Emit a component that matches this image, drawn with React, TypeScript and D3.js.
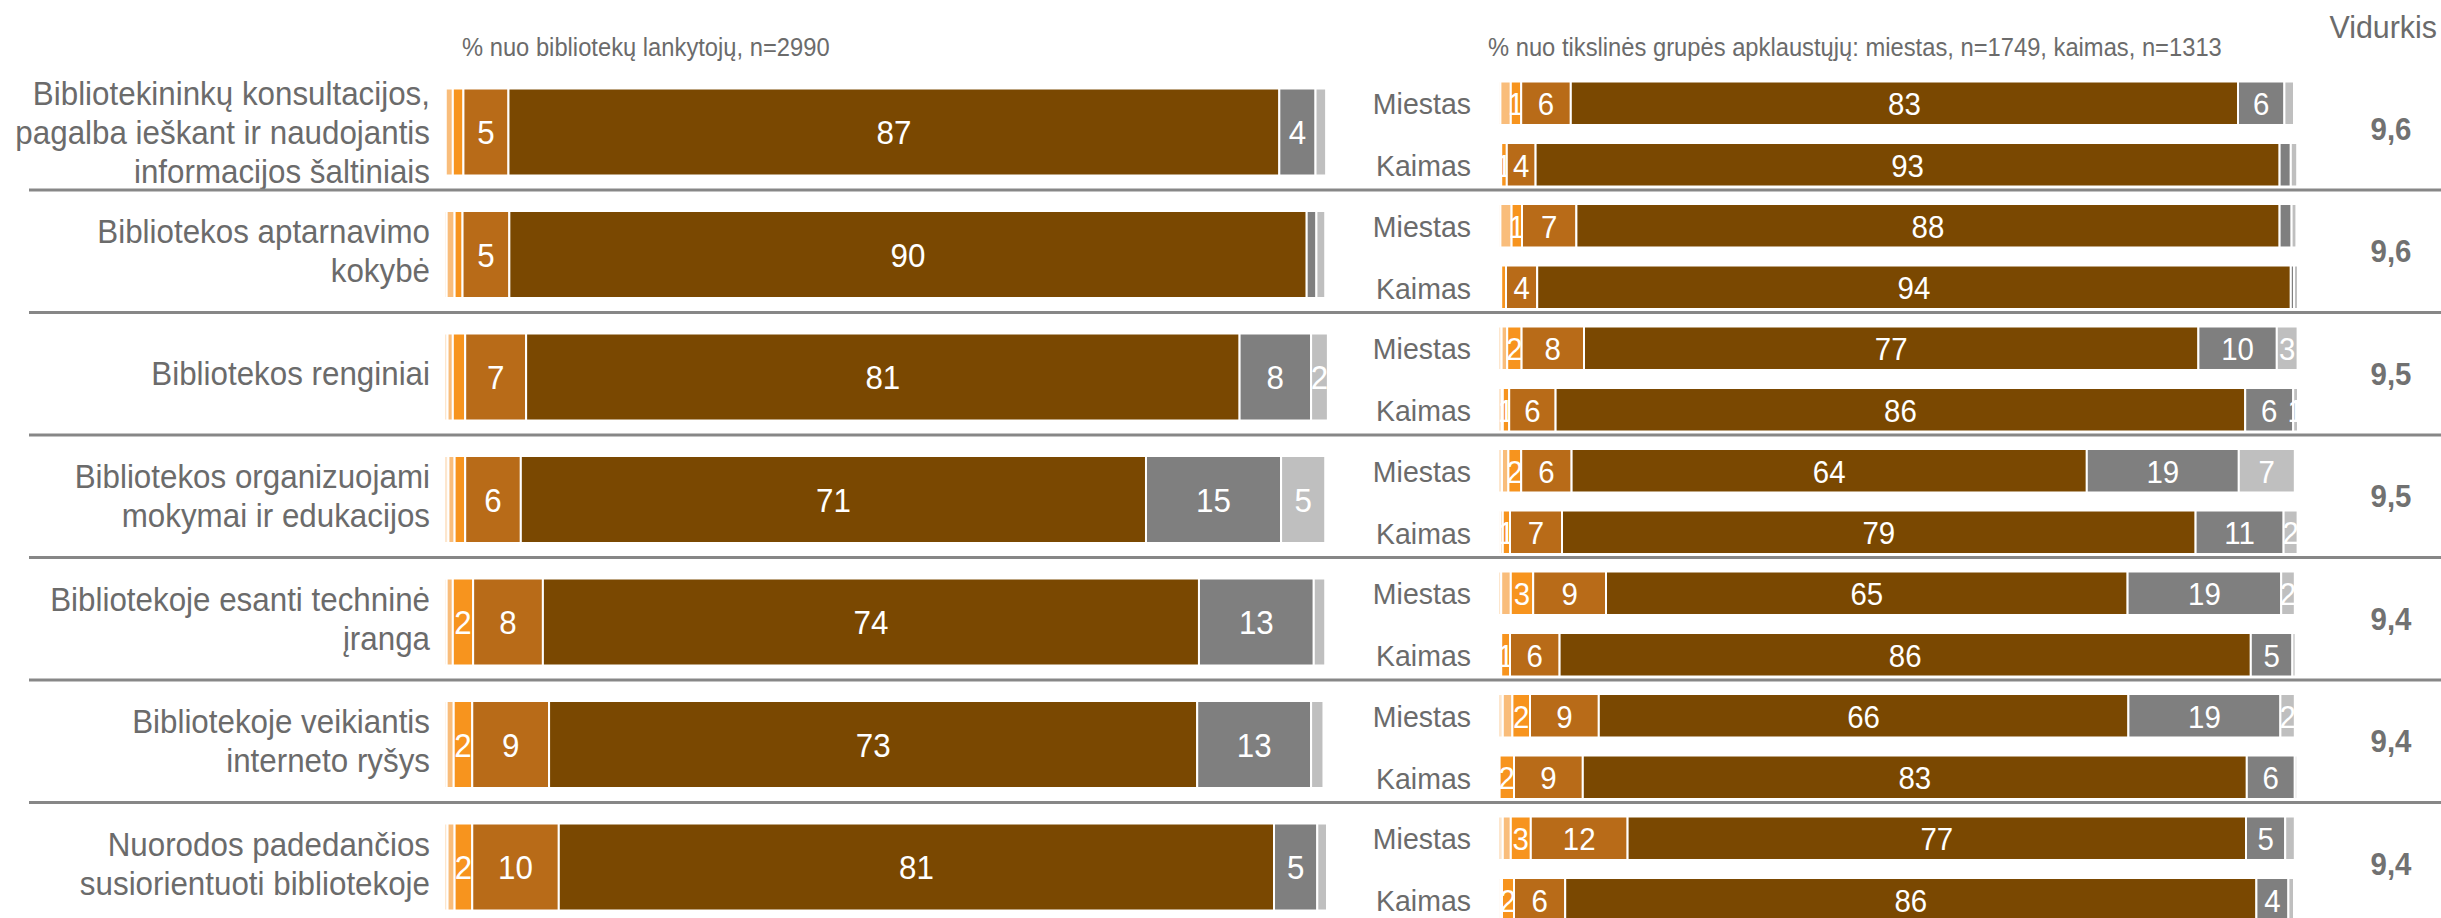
import React from "react";
import * as d3 from "d3";

// ---------- DATA ----------
const categories: string[][] = [
  ["Bibliotekininkų konsultacijos,", "pagalba ieškant ir naudojantis", "informacijos šaltiniais"],
  ["Bibliotekos aptarnavimo", "kokybė"],
  ["Bibliotekos renginiai"],
  ["Bibliotekos organizuojami", "mokymai ir edukacijos"],
  ["Bibliotekoje esanti techninė", "įranga"],
  ["Bibliotekoje veikiantis", "interneto ryšys"],
  ["Nuorodos padedančios", "susiorientuoti bibliotekoje"],
];

const subGroups = ["Miestas", "Kaimas"];

// seven answer segments per bar (left to right)
const visitorsValues: number[][] = [
  [0.2, 0.8, 1.2, 5.1, 87.3, 4.1, 1.2],
  [0.3, 0.9, 0.9, 5.3, 90.3, 1.1, 1.0],
  [0.4, 0.6, 1.4, 6.9, 80.8, 8.1, 1.9],
  [0.5, 0.7, 1.2, 6.3, 70.8, 15.3, 5.0],
  [0.3, 0.7, 2.3, 7.9, 74.3, 13.0, 1.3],
  [0.3, 0.8, 2.1, 8.7, 73.4, 12.9, 1.4],
  [0.4, 0.8, 2.0, 9.8, 81.0, 4.9, 1.1],
];
const visitorsLabels: string[][] = [
  ["", "", "", "5", "87", "4", ""],
  ["", "", "", "5", "90", "", ""],
  ["", "", "", "7", "81", "8", "2"],
  ["", "", "", "6", "71", "15", "5"],
  ["", "", "2", "8", "74", "13", ""],
  ["", "", "2", "9", "73", "13", ""],
  ["", "", "2", "10", "81", "5", ""],
];

const cityValues: number[][] = [
  [0.3, 1.3, 1.3, 6.2, 83.4, 5.8, 1.2],
  [0.3, 1.4, 1.3, 6.8, 87.9, 1.5, 0.6],
  [0.45, 0.7, 1.8, 7.8, 76.8, 9.8, 2.6],
  [0.5, 0.8, 1.6, 6.3, 64.4, 19.0, 7.0],
  [0.4, 1.2, 2.8, 9.1, 65.2, 19.2, 1.7],
  [0.6, 1.2, 2.2, 8.6, 66.2, 19.0, 1.8],
  [0.6, 1.0, 2.5, 12.1, 77.3, 4.9, 1.2],
];
const cityLabels: string[][] = [
  ["", "", "1", "6", "83", "6", ""],
  ["", "", "1", "7", "88", "", ""],
  ["", "", "2", "8", "77", "10", "3"],
  ["", "", "2", "6", "64", "19", "7"],
  ["", "", "3", "9", "65", "19", "2"],
  ["", "", "2", "9", "66", "19", "2"],
  ["", "", "3", "12", "77", "5", ""],
];

const ruralValues: number[][] = [
  [0.2, 0.2, 0.7, 3.6, 93.0, 1.4, 0.8],
  [0.2, 0.2, 0.6, 3.9, 94.2, 0.4, 0.5],
  [0.5, 0.1, 0.8, 5.8, 86.2, 6.0, 0.6],
  [0.3, 0.3, 0.9, 6.5, 79.2, 11.0, 1.75],
  [0.2, 0.2, 1.1, 6.2, 86.4, 5.2, 0.4],
  [0.1, 0.1, 1.8, 8.6, 83.0, 6.0, 0.3],
  [0.3, 0.2, 1.5, 6.4, 86.4, 4.0, 0.7],
];
const ruralLabels: string[][] = [
  ["", "", "1", "4", "93", "", ""],
  ["", "", "", "4", "94", "", ""],
  ["", "", "1", "6", "86", "6", "1"],
  ["", "", "1", "7", "79", "11", "2"],
  ["", "", "1", "6", "86", "5", ""],
  ["", "", "2", "9", "83", "6", ""],
  ["", "", "2", "6", "86", "4", ""],
];

const averages = ["9,6", "9,6", "9,5", "9,5", "9,4", "9,4", "9,4"];

const leftTitle = "% nuo bibliotekų lankytojų, n=2990";
const rightTitle = "% nuo tikslinės grupės apklaustųjų: miestas, n=1749, kaimas, n=1313";
const avgTitle = "Vidurkis";

// ---------- STYLE ----------
const W = 2441;
const H = 918;
const FONT = "'Liberation Sans', Arial, Helvetica, sans-serif";
const TEXT = "#6b6b6b";
const segColors = ["#fde6cd", "#f9bd7b", "#f7941e", "#b86b18", "#7a4801", "#7f7f7f", "#bfbfbf"];
const keys = d3.range(7);
const SX = 0.95; // slight horizontal condensing of the reference typeface

const groupBand = d3
  .scaleBand<number>()
  .domain(d3.range(categories.length))
  .range([67.5, 67.5 + categories.length * 122.5])
  .paddingInner(0)
  .paddingOuter(0);

const subBand = d3.scaleBand<string>().domain(subGroups).range([14, 119]).paddingInner(0.293);

const xLeft = d3.scaleLinear().domain([0, 100]).range([444, 1327]);
const xRight = d3.scaleLinear().domain([0, 100]).range([1498, 2298]);

const stack = d3.stack<number[], number>().keys(keys).value((d, k) => d[k]);

function T({
  x,
  y,
  children,
  size,
  anchor = "start",
  fill = TEXT,
  weight = "normal",
  baseline = "auto",
}: {
  x: number;
  y: number;
  children: React.ReactNode;
  size: number;
  anchor?: string;
  fill?: string;
  weight?: string;
  baseline?: string;
}) {
  return (
    <text
      transform={`translate(${x},${y}) scale(${SX},1)`}
      textAnchor={anchor}
      dominantBaseline={baseline}
      fontSize={size}
      fill={fill}
      fontWeight={weight}
      fontFamily={FONT}
    >
      {children}
    </text>
  );
}

function Bar({
  values,
  labels,
  x,
  y,
  h,
  fontSize,
}: {
  values: number[];
  labels: string[];
  x: d3.ScaleLinear<number, number>;
  y: number;
  h: number;
  fontSize: number;
}) {
  const series = stack([values]);
  return (
    <g>
      {series.map((s, i) => {
        const [a, b] = s[0];
        const x0 = x(a);
        const x1 = x(b);
        return (
          <g key={i}>
            <rect x={x0} y={y} width={Math.max(0, x1 - x0)} height={h} fill={segColors[i]} stroke="#ffffff" strokeWidth={2} />
            {labels[i] ? (
              <T x={(x0 + x1) / 2} y={y + h / 2 + 1} anchor="middle" baseline="central" fill="#ffffff" size={fontSize}>
                {labels[i]}
              </T>
            ) : null}
          </g>
        );
      })}
    </g>
  );
}

export default function App() {
  const step = groupBand.step();
  return (
    <>
      <style>{`html,body{margin:0;padding:0;overflow:hidden;background:#fff}`}</style>
      <svg width={W} height={H} viewBox={`0 0 ${W} ${H}`} style={{ display: "block" }}>
        <rect x={0} y={0} width={W} height={H} fill="#ffffff" />
        <T x={462} y={56} size={25}>
          {leftTitle}
        </T>
        <T x={1488} y={56} size={25}>
          {rightTitle}
        </T>
        <T x={2437} y={38} anchor="end" size={32}>
          {avgTitle}
        </T>

        {categories.map((lines, i) => {
          const top = groupBand(i) as number;
          const cy = top + step / 2 + (lines.length === 3 ? 4 : 0);
          const lh = 39;
          return (
            <g key={i}>
              {lines.map((ln, j) => (
                <T key={j} x={430} y={cy + (j - (lines.length - 1) / 2) * lh} anchor="end" baseline="central" size={33}>
                  {ln}
                </T>
              ))}
              <Bar values={visitorsValues[i]} labels={visitorsLabels[i]} x={xLeft} y={top + 21} h={87} fontSize={33} />
              {subGroups.map((sg, k) => {
                const yy = top + (subBand(sg) as number);
                const bh = subBand.bandwidth();
                return (
                  <g key={sg}>
                    <T x={1471} y={yy + bh / 2 + 1} anchor="end" baseline="central" size={30}>
                      {sg}
                    </T>
                    <Bar
                      values={k === 0 ? cityValues[i] : ruralValues[i]}
                      labels={k === 0 ? cityLabels[i] : ruralLabels[i]}
                      x={xRight}
                      y={yy}
                      h={bh}
                      fontSize={31}
                    />
                  </g>
                );
              })}
              <T x={2391} y={top + step / 2} anchor="middle" baseline="central" size={31} weight="bold" fill="#717171">
                {averages[i]}
              </T>
              {i < categories.length - 1 ? (
                <line x1={29} x2={W} y1={top + step} y2={top + step} stroke="#878787" strokeWidth={3} />
              ) : null}
            </g>
          );
        })}
      </svg>
    </>
  );
}
